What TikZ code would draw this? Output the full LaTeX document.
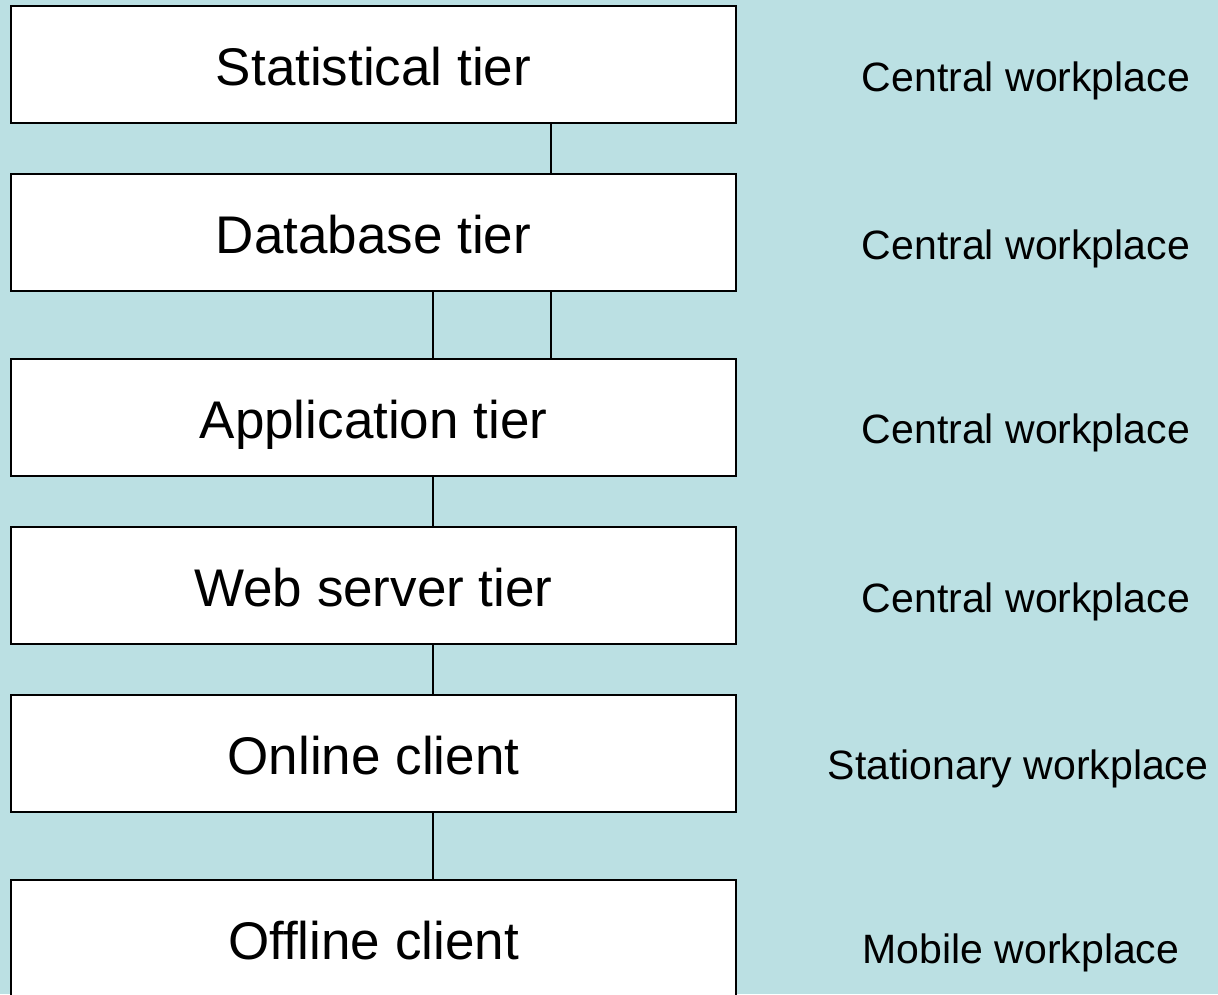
\documentclass[tikz,border=0pt]{standalone}
\usepackage{fontspec}
\setmainfont{Liberation Sans}
\definecolor{bgblue}{RGB}{187,224,227}
\begin{document}
\begin{tikzpicture}[x=1pt,y=-1pt,
  tierbox/.style={draw=black, fill=white, line width=2pt, minimum width=725pt, minimum height=117pt,
    inner sep=0pt, text height=41pt, text depth=0pt, font=\fontsize{53}{60}\selectfont},
  placelab/.style={anchor=base, inner sep=0pt, font=\fontsize{41}{48}\selectfont},
  link/.style={draw=black, line width=2pt}]
\useasboundingbox (0,0) rectangle (1218,994);
\fill[bgblue] (0,0) rectangle (1218,994);
\node[tierbox] (b1) at (373.5,64.5) {Statistical tier};
\node[tierbox] (b2) at (373.5,232.5) {Database tier};
\node[tierbox] (b3) at (373.5,417.5) {Application tier};
\node[tierbox] (b4) at (373.5,585.5) {Web server tier};
\node[tierbox] (b5) at (373.5,753.5) {Online client};
\node[tierbox] (b6) at (373.5,938.5) {Offline client};
\draw[link] ([xshift=177.5pt]b1.south) -- ([xshift=177.5pt]b2.north);
\draw[link] ([xshift=177.5pt]b2.south) -- ([xshift=177.5pt]b3.north);
\draw[link] ([xshift=59.5pt]b2.south) -- ([xshift=59.5pt]b3.north);
\draw[link] ([xshift=59.5pt]b3.south) -- ([xshift=59.5pt]b4.north);
\draw[link] ([xshift=59.5pt]b4.south) -- ([xshift=59.5pt]b5.north);
\draw[link] ([xshift=59.5pt]b5.south) -- ([xshift=59.5pt]b6.north);
\node[placelab] (l1) at (1026,91) {Central workplace};
\node[placelab] (l2) at (1026,259) {Central workplace};
\node[placelab] (l3) at (1026,443) {Central workplace};
\node[placelab] (l4) at (1026,612) {Central workplace};
\node[placelab] (l5) at (1018,779) {Stationary workplace};
\node[placelab] (l6) at (1021,963) {Mobile workplace};
\end{tikzpicture}
\end{document}
